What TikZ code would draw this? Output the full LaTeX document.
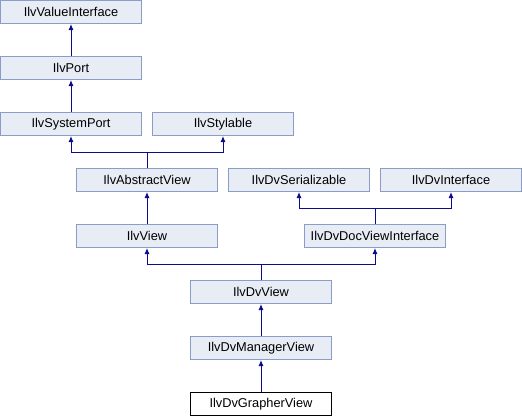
\documentclass[tikz,border=0pt]{standalone}
\usepackage{fontspec}
\setmainfont{Liberation Sans}
\usetikzlibrary{arrows.meta}
\definecolor{boxfill}{HTML}{E8ECF5}
\definecolor{boxline}{HTML}{8A9CC8}
\definecolor{edgecol}{HTML}{0D0D8C}
\begin{document}
\begin{tikzpicture}[x=1pt,y=-1pt,
  cls/.style={draw=boxline,fill=boxfill,line width=1pt,minimum width=141pt,minimum height=23pt,inner sep=0pt,font=\fontsize{12.8}{14}\selectfont},
  cur/.style={cls,draw=black,fill=white},
  arr/.style={draw=edgecol,line width=1pt,-{Latex[length=6pt,width=5pt]}}]
\useasboundingbox (0,0) rectangle (522,416);
\node[cls] (vi) at (71,12) {IlvValueInterface};
\node[cls] (port) at (71,68) {IlvPort};
\node[cls] (sp) at (71,124) {IlvSystemPort};
\node[cls] (sty) at (223,124) {IlvStylable};
\node[cls] (av) at (147,180) {IlvAbstractView};
\node[cls] (ser) at (299,180) {IlvDvSerializable};
\node[cls] (dvi) at (451,180) {IlvDvInterface};
\node[cls] (view) at (147,236) {IlvView};
\node[cls] (dvdoc) at (375,236) {IlvDvDocViewInterface};
\node[cls] (dvview) at (261,292) {IlvDvView};
\node[cls] (mgr) at (261,348) {IlvDvManagerView};
\node[cur] (gr) at (261,404) {IlvDvGrapherView};
\coordinate (j1) at (147,152);
\coordinate (j2) at (375,208);
\coordinate (j3) at (261,264);
\draw[arr] (port) -- (vi);
\draw[arr] (sp) -- (port);
\draw[arr] (av.north) -- (j1) -| (sp.south);
\draw[arr] (j1) -| (sty.south);
\draw[arr] (view) -- (av);
\draw[arr] (dvdoc.north) -- (j2) -| (ser.south);
\draw[arr] (j2) -| (dvi.south);
\draw[arr] (dvview.north) -- (j3) -| (view.south);
\draw[arr] (j3) -| (dvdoc.south);
\draw[arr] (mgr) -- (dvview);
\draw[arr] (gr) -- (mgr);
\end{tikzpicture}
\end{document}
